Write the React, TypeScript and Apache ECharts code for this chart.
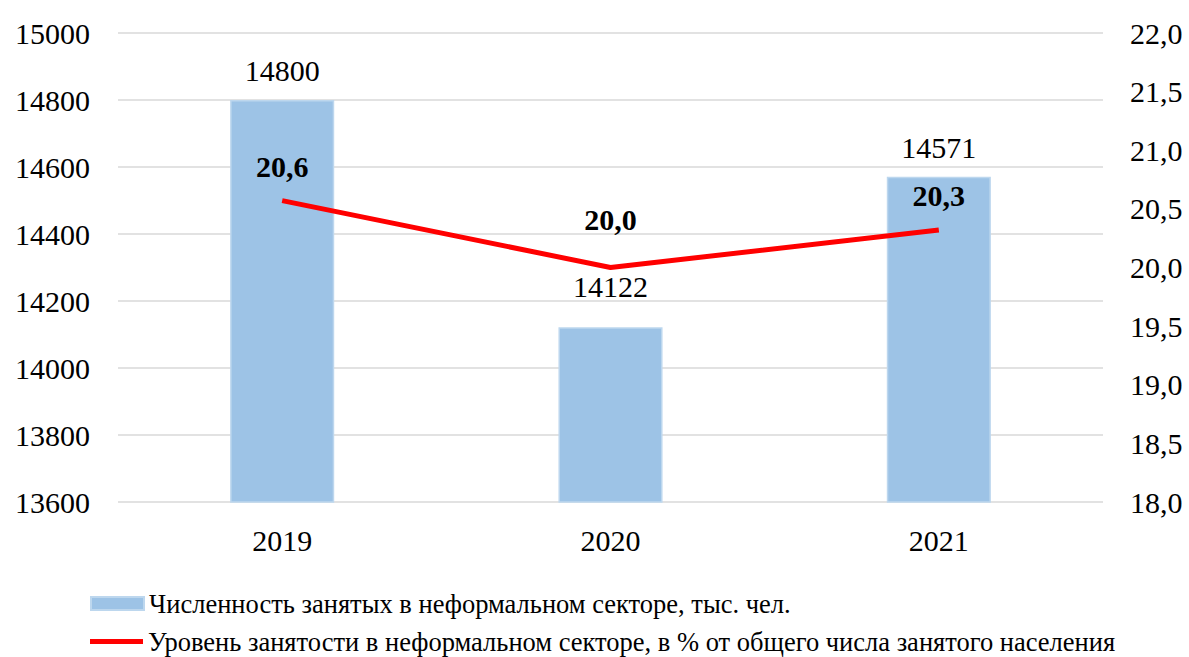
import React, { useEffect, useRef } from "react";
import * as echarts from "echarts";

const categories = ["2019", "2020", "2021"];
const employedThousands = [14800, 14122, 14571];
const sharePercent = [20.57, 20.0, 20.32];
const barLabelDistances = [15, 26, 14];
const lineLabelDistances = [19, 33, 19];
const barName = "Численность занятых в неформальном секторе, тыс. чел.";
const lineName = "Уровень занятости в неформальном секторе, в % от общего числа занятого населения";

const FONT = "Liberation Serif";

export default function App() {
  const ref = useRef<HTMLDivElement>(null);
  useEffect(() => {
    if (!ref.current) return;
    const chart = echarts.init(ref.current, null, { renderer: "svg" });
    const legendText = { fontFamily: FONT, fontSize: 26.5, color: "#000" };
    chart.setOption({
      animation: false,
      textStyle: { fontFamily: FONT },
      grid: { left: 118, right: 86, top: 33, bottom: 155, containLabel: false },
      legend: [
        {
          left: 90,
          top: 590,
          padding: 0,
          itemWidth: 53,
          itemHeight: 13,
          textStyle: legendText,
          data: [{ name: barName, icon: "rect" }],
        },
        {
          left: 90,
          top: 628,
          padding: 0,
          itemWidth: 53,
          itemHeight: 5,
          textStyle: legendText,
          data: [{ name: lineName, icon: "rect", itemStyle: { color: "#ff0000" } }],
        },
      ],
      xAxis: {
        type: "category",
        data: categories,
        axisLine: { show: false },
        axisTick: { show: false },
        axisLabel: { fontFamily: FONT, fontSize: 30, color: "#000", margin: 23 },
      },
      yAxis: [
        {
          type: "value",
          min: 13600,
          max: 15000,
          interval: 200,
          axisLine: { show: false },
          axisTick: { show: false },
          splitLine: { lineStyle: { color: "#d9d9d9", width: 1.5 } },
          axisLabel: {
            fontFamily: FONT,
            fontSize: 30,
            color: "#000",
            margin: 28,
            formatter: (v: number) => String(v),
          },
        },
        {
          type: "value",
          min: 18,
          max: 22,
          interval: 0.5,
          position: "right",
          axisLine: { show: false },
          axisTick: { show: false },
          splitLine: { show: false },
          axisLabel: {
            fontFamily: FONT,
            fontSize: 30,
            color: "#000",
            margin: 27,
            formatter: (v: number) => v.toFixed(1).replace(".", ","),
          },
        },
      ],
      series: [
        {
          name: barName,
          type: "bar",
          yAxisIndex: 0,
          barWidth: "31.7%",
          itemStyle: { color: "#9dc3e6", borderColor: "#bdd7ee", borderWidth: 1.5 },
          data: employedThousands.map((v, i) => ({
            value: v,
            label: {
              show: true,
              position: "top",
              distance: barLabelDistances[i],
              fontFamily: FONT,
              fontSize: 30,
              color: "#000",
            },
          })),
        },
        {
          name: lineName,
          type: "line",
          yAxisIndex: 1,
          symbol: "none",
          lineStyle: { color: "#ff0000", width: 5 },
          itemStyle: { color: "#ff0000" },
          data: sharePercent,
          z: 3,
        },
        {
          name: "labels",
          type: "scatter",
          yAxisIndex: 1,
          symbolSize: 1,
          itemStyle: { color: "rgba(0,0,0,0)", opacity: 1 },
          silent: true,
          z: 4,
          data: sharePercent.map((v, i) => ({
            value: v,
            label: {
              show: true,
              position: "top",
              distance: lineLabelDistances[i],
              fontFamily: FONT,
              fontSize: 30,
              fontWeight: "bold",
              color: "#000",
              opacity: 1,
              formatter: (p: any) => Number(p.value).toFixed(1).replace(".", ","),
            },
          })),
        },
      ],
    });
    return () => chart.dispose();
  }, []);
  return <div ref={ref} style={{ width: 1189, height: 657, position: "absolute", left: 0, top: 0 }} />;
}
